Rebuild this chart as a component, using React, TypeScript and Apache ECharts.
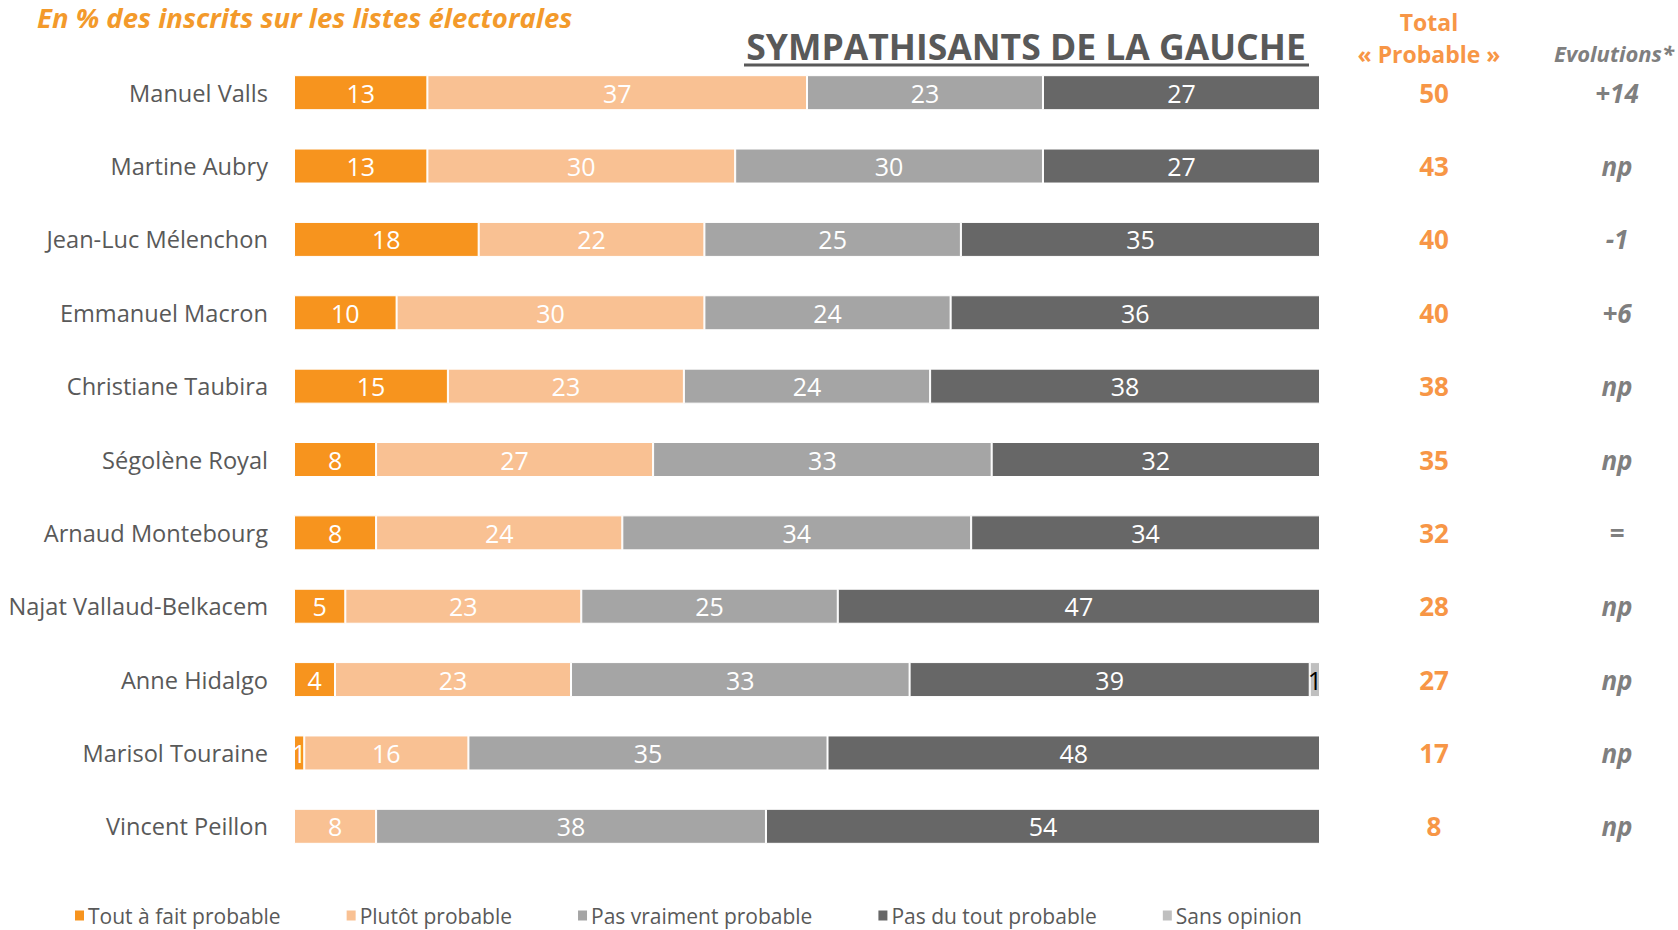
import React, { useEffect, useRef } from 'react';
import * as echarts from 'echarts';

const categories = [
  'Manuel Valls',
  'Martine Aubry',
  'Jean-Luc Mélenchon',
  'Emmanuel Macron',
  'Christiane Taubira',
  'Ségolène Royal',
  'Arnaud Montebourg',
  'Najat Vallaud-Belkacem',
  'Anne Hidalgo',
  'Marisol Touraine',
  'Vincent Peillon',
];
const seriesNames = ['Tout à fait probable', 'Plutôt probable', 'Pas vraiment probable', 'Pas du tout probable', 'Sans opinion'];
const toutAFait = [13, 13, 18, 10, 15, 8, 8, 5, 4, 1, 0];
const plutot = [37, 30, 22, 30, 23, 27, 24, 23, 23, 16, 8];
const pasVraiment = [23, 30, 25, 24, 24, 33, 34, 25, 33, 35, 38];
const pasDuTout = [27, 27, 35, 36, 38, 32, 34, 47, 39, 48, 54];
const sansOpinion = [0, 0, 0, 0, 0, 0, 0, 0, 1, 0, 0];
const totalProbable = ['50', '43', '40', '40', '38', '35', '32', '28', '27', '17', '8'];
const evolutions = ['+14', 'np', '-1', '+6', 'np', 'np', '=', 'np', 'np', 'np', 'np'];

const colors = ['#F7941E', '#F9C193', '#A5A5A5', '#676767', '#BFBFBF'];
const FONT = '"Open Sans", sans-serif';

export default function App() {
  const ref = useRef<HTMLDivElement>(null);
  useEffect(() => {
    document.body.style.margin = '0';
    if (!ref.current) return;
    const chart = echarts.init(ref.current, null, { renderer: 'svg' });
    const values = [toutAFait, plutot, pasVraiment, pasDuTout, sansOpinion];
    const series = values.map((arr, k) => ({
      name: seriesNames[k],
      type: 'bar',
      stack: 'total',
      barWidth: 35,
      data: arr,
      itemStyle: { color: colors[k], borderColor: '#ffffff', borderWidth: 1 },
      label: {
        show: true,
        position: 'inside',
        color: k === 4 ? '#000000' : '#ffffff',
        fontFamily: FONT,
        fontSize: 25,
        formatter: (p: any) => (p.value === 0 ? '' : String(p.value)),
      },
    }));
    chart.setOption({
      animation: false,
      backgroundColor: '#ffffff',
      color: colors,
      grid: { left: 294, right: 358, top: 56, height: 807, containLabel: false },
      xAxis: { type: 'value', min: 0, max: 100, show: false },
      yAxis: [
        {
          type: 'category',
          data: categories,
          inverse: true,
          axisLine: { show: false },
          axisTick: { show: false },
          axisLabel: { color: '#595959', fontSize: 23.6, fontFamily: FONT, margin: 26 },
        },
        {
          type: 'category',
          data: categories,
          inverse: true,
          position: 'right',
          axisLine: { show: false },
          axisTick: { show: false },
          axisLabel: {
            formatter: (_v: string, i: number) => totalProbable[i],
            margin: 114,
            align: 'center',
            color: '#F79646',
            fontWeight: 'bold',
            fontSize: 26,
            fontFamily: FONT,
          },
        },
        {
          type: 'category',
          data: categories,
          inverse: true,
          position: 'right',
          axisLine: { show: false },
          axisTick: { show: false },
          axisLabel: {
            formatter: (_v: string, i: number) => evolutions[i],
            margin: 297,
            align: 'center',
            color: '#7F7F7F',
            fontWeight: 'bold',
            fontStyle: 'italic',
            fontSize: 26,
            fontFamily: FONT,
          },
        },
      ],
      legend: {
        data: seriesNames,
        left: 68,
        top: 900,
        icon: 'rect',
        itemWidth: 11,
        itemHeight: 12,
        itemGap: 64,
        textStyle: { color: '#595959', fontSize: 21, fontFamily: FONT, padding: [0, 0, 0, -2] },
      },
      graphic: [
        {
          type: 'text',
          x: 37,
          y: 17,
          style: {
            text: 'En % des inscrits sur les listes électorales',
            fill: '#F39A2B',
            font: `italic bold 27.5px ${FONT}`,
            textVerticalAlign: 'middle',
          },
        },
        {
          type: 'text',
          x: 1026,
          y: 46,
          style: {
            text: 'SYMPATHISANTS DE LA GAUCHE',
            fill: '#595959',
            font: `bold 35.5px ${FONT}`,
            textAlign: 'center',
            textVerticalAlign: 'middle',
          },
        },
        {
          type: 'line',
          shape: { x1: 744, y1: 65, x2: 1309, y2: 65 },
          style: { stroke: '#595959', lineWidth: 3 },
        },
        {
          type: 'text',
          x: 1429,
          y: 22,
          style: { text: 'Total', fill: '#F79646', font: `bold 23px ${FONT}`, textAlign: 'center', textVerticalAlign: 'middle' },
        },
        {
          type: 'text',
          x: 1429,
          y: 54,
          style: { text: '« Probable »', fill: '#F79646', font: `bold 23px ${FONT}`, textAlign: 'center', textVerticalAlign: 'middle' },
        },
        {
          type: 'text',
          x: 1614,
          y: 53,
          style: { text: 'Evolutions*', fill: '#7F7F7F', font: `italic bold 22px ${FONT}`, textAlign: 'center', textVerticalAlign: 'middle' },
        },
      ],
      series,
    });
    return () => chart.dispose();
  }, []);
  return <div ref={ref} style={{ width: 1678, height: 930 }} />;
}
